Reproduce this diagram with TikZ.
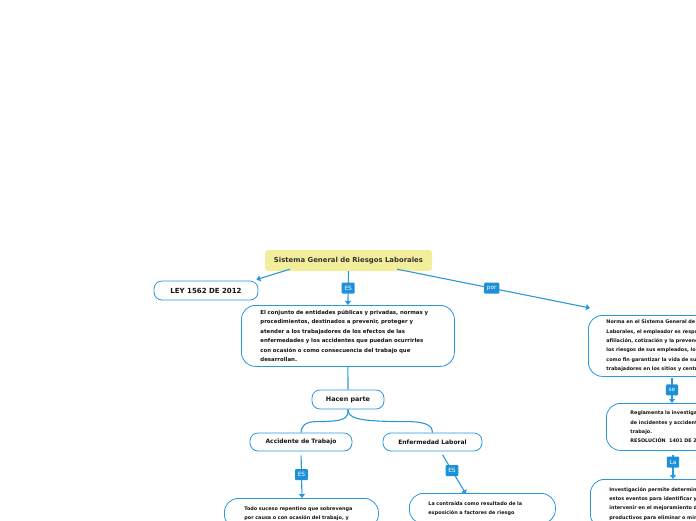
\documentclass[tikz,border=0pt]{standalone}
\usepackage{fontspec}
\setmainfont{DejaVu Sans}
\usetikzlibrary{arrows.meta,calc}
\definecolor{lineblue}{RGB}{42,152,222}
\definecolor{lblblue}{RGB}{30,144,216}
\definecolor{titley}{RGB}{242,238,156}
\definecolor{txt}{RGB}{20,20,20}
\tikzset{
  conn/.style={draw=lineblue, line width=1.1pt},
  arr/.style={conn, -{Triangle[length=4pt,width=6pt]}},
  lbl/.style={fill=lblblue, text=white, font=\fontsize{5.8}{6}\selectfont, inner xsep=2.8pt, inner ysep=0pt, minimum height=11pt, rounded corners=1pt},
  pill/.style={draw=lineblue, line width=0.8pt, rounded corners=8pt, fill=white, text=txt, font=\bfseries\fontsize{6}{6}\selectfont, inner sep=0pt},
  bigbox/.style={draw=lineblue, line width=0.8pt, rounded corners=14pt, fill=white, text=txt, font=\bfseries\fontsize{4.9}{9.3}\selectfont, align=left, anchor=north west}
}
\begin{document}
\begin{tikzpicture}[x=1pt,y=-1pt]
\useasboundingbox (0,0) rectangle (696,520);
\clip (0,0) rectangle (696,520);

\node[fill=titley, rounded corners=3pt, minimum width=167pt, minimum height=21pt, inner sep=0pt, text=black!80, font=\bfseries\fontsize{6.9}{7}\selectfont] (title) at (348.5,260.5) {Sistema General de Riesgos Laborales};

\node[pill, minimum width=104pt, minimum height=19pt, font=\bfseries\fontsize{7}{7}\selectfont] (ley) at (206,290.5) {LEY 1562 DE 2012};

\node[bigbox, text width=175pt, inner xsep=19pt, inner ysep=3pt, minimum height=61pt, font=\bfseries\fontsize{5.4}{9.4}\selectfont] (def) at (241,305) {El conjunto de entidades públicas y privadas, normas y\\procedimientos, destinados a prevenir, proteger y\\atender a los trabajadores de los efectos de las\\enfermedades y los accidentes que puedan ocurrirles\\con ocasión o como consecuencia del trabajo que\\desarrollan.};

\node[pill, minimum width=72pt, minimum height=19pt, font=\bfseries\fontsize{6.4}{7}\selectfont] (hacen) at (348,399.5) {Hacen parte};
\node[pill, minimum width=102pt, minimum height=18pt] (acc) at (301,442) {Accidente de Trabajo};
\node[pill, minimum width=99pt, minimum height=18pt] (enf) at (432.5,442) {Enfermedad Laboral};

\node[bigbox, text width=114pt, inner xsep=20pt, inner ysep=8pt] (accdef) at (224,498) {Todo suceso repentino que sobrevenga\\por causa o con ocasión del trabajo, y};

\node[bigbox, text width=108pt, inner xsep=19pt, inner ysep=8pt] (enfdef) at (409,493) {La contraída como resultado de la\\exposición a factores de riesgo};

\node[bigbox, text width=164pt, inner xsep=18pt, inner ysep=3pt, minimum height=61pt] (norma) at (588,315) {Norma en el Sistema General de Riesgos\\Laborales, el empleador es responsable\\afiliación, cotización y la prevención de\\los riesgos de sus empleados, los cuales\\como fin garantizar la vida de sus\\trabajadores en los sitios y centros de};

\node[bigbox, text width=152pt, inner xsep=24pt, inner ysep=4pt, minimum height=47pt] (regl) at (606,403) {Reglamenta la investigación\\de incidentes y accidentes de\\trabajo.\\RESOLUCIÓN\ \ 1401 DE 2007};

\node[bigbox, text width=162pt, inner xsep=19pt, inner ysep=8pt] (inv) at (590,479) {Investigación permite determinar las\\estos eventos para identificar y\\intervenir en el mejoramiento de los\\productivos para eliminar o minimizar};

% connectors
\draw[arr] ([xshift=25pt,yshift=2pt]title.south west) -- ([xshift=-2pt,yshift=1pt]ley.north east);
\draw[arr] (title.south) -- node[lbl]{ES} (def.north);
\draw[arr] ([xshift=-35pt,yshift=2pt]title.south east) -- node[lbl, pos=0.49]{por} ([xshift=2pt,yshift=7pt]norma.north west);
\draw[conn] (def.south) -- (hacen.north);
\draw[conn] (hacen.south) .. controls ++(0,9) and ++(30,0) .. ($(acc.north)+(15,-11)$) .. controls ++(-12,0) and ++(0,-5) .. (acc.north);
\draw[conn] (hacen.south) .. controls ++(0,9) and ++(-50,0) .. ($(enf.north)+(-25,-11)$) .. controls ++(22,0) and ++(0,-5) .. (enf.north);
\draw[arr, shorten <=4pt] (acc.south) -- node[lbl]{ES} ($(accdef.north west)+(78,0)$);
\draw[arr, shorten <=4pt] ([xshift=8pt]enf.south) -- node[lbl, pos=0.45]{ES} ($(enfdef.north west)+(57,1)$);
\draw[arr, shorten <=1pt] ($(norma.south west)+(84,0)$) -- node[lbl]{se} ($(regl.north west)+(66,0)$);
\draw[arr, shorten <=4pt] ($(regl.south west)+(67,0)$) -- node[lbl, pos=0.4]{La} ($(inv.north west)+(83,0)$);
\end{tikzpicture}
\end{document}
